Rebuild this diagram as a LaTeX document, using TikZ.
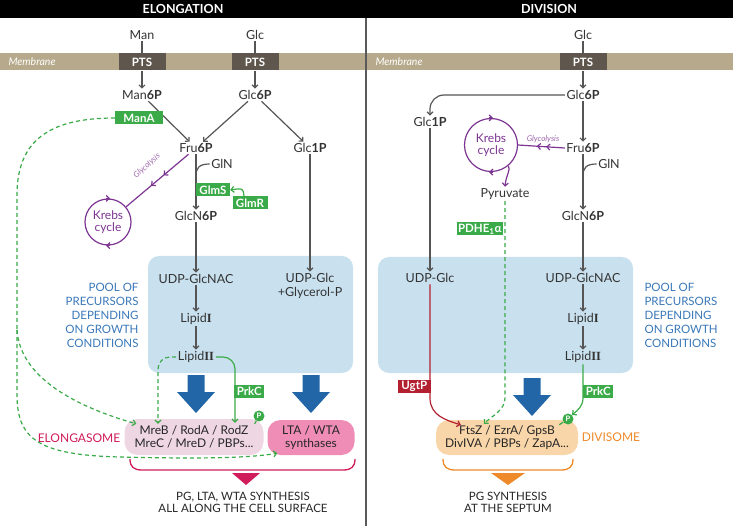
\documentclass[tikz,border=0pt]{standalone}
\usepackage{fontspec}
\setmainfont{Lato}
\newfontfamily\numfont{Liberation Serif}
\usetikzlibrary{arrows.meta,calc,decorations.markings}

\definecolor{membr}{HTML}{B7AA8C}
\definecolor{ptsgrey}{HTML}{5F574E}
\definecolor{txtgrey}{HTML}{333333}
\definecolor{arrgrey}{HTML}{555555}
\definecolor{framegrey}{HTML}{5A5A5A}
\definecolor{enzgreen}{HTML}{3BAA48}
\definecolor{krebs}{HTML}{7D3592}
\definecolor{poolblue}{HTML}{C9E1EF}
\definecolor{pooltxt}{HTML}{3A78B8}
\definecolor{bigblue}{HTML}{2366A8}
\definecolor{elopink}{HTML}{EED6E2}
\definecolor{ltapink}{HTML}{EF8DB6}
\definecolor{crimson}{HTML}{D01C5B}
\definecolor{divorange}{HTML}{F9D6A9}
\definecolor{orangetxt}{HTML}{EE8A2A}
\definecolor{ugtred}{HTML}{B3202F}

\newcommand\romnum[1]{{\numfont\bfseries #1}}

\tikzset{
  head/.style={text=white, font=\bfseries\fontsize{12.5}{13}\selectfont},
  memb/.style={text=white, font=\itshape\fontsize{10.5}{12}\selectfont},
  pts/.style={fill=ptsgrey, text=white, font=\bfseries\fontsize{11.5}{12}\selectfont, minimum width=47pt, minimum height=17pt, inner sep=0pt},
  met/.style={text=txtgrey, font=\fontsize{12.5}{14}\selectfont, inner sep=1.5pt},
  flow/.style={draw=arrgrey, line width=1.2pt},
  enz/.style={fill=enzgreen, text=white, font=\bfseries\fontsize{11.5}{12}\selectfont, minimum height=13pt, inner sep=1pt},
  gline/.style={draw=enzgreen, line width=1.2pt},
  gdash/.style={gline, dash pattern=on 4pt off 3pt},
  rline/.style={draw=ugtred, line width=1.2pt},
  krebsc/.style={circle, draw=krebs, line width=1.2pt, text=krebs, align=center, font=\fontsize{12}{12.5}\selectfont, inner sep=0pt},
  kline/.style={draw=krebs, line width=1.2pt},
  kmid/.style={kline, postaction={decorate}, decoration={markings,
      mark=at position 0.4 with {\arrow{Straight Barb[length=3pt,width=6pt]}},
      mark=at position 0.6 with {\arrow{Straight Barb[length=3pt,width=6pt]}}}},
  glyc/.style={text=krebs!75, font=\itshape\fontsize{8}{8}\selectfont, inner sep=0pt},
  cplx/.style={rounded corners=13pt, align=center, text=black!85, font=\fontsize{12}{13.5}\selectfont, inner sep=0pt},
  lbl/.style={font=\fontsize{12}{12}\selectfont},
  pool/.style={text=pooltxt, font=\fontsize{11.5}{14}\selectfont},
  outtxt/.style={align=center, text=black!85, font=\fontsize{11.5}{12}\selectfont},
  pcirc/.style={circle, fill=enzgreen, text=white, font=\bfseries\fontsize{7.5}{7.5}\selectfont, inner sep=0pt, minimum size=11pt},
}

\begin{document}
\begin{tikzpicture}[x=1pt, y=-1pt, >={Straight Barb[length=3pt,width=6pt]}]
    \useasboundingbox (0,0) rectangle (733,526);
    % backgrounds
    \fill[black] (0,0) rectangle (733,18);
    \fill[membr] (0,53) rectangle (733,70);
    \draw[framegrey, line width=1.2pt] (366,18)--(366,526);
    \fill[poolblue, rounded corners=11pt] (148,256) rectangle (353,373);
    \fill[poolblue, rounded corners=11pt] (378,257) rectangle (633,373);
    \foreach \x/\y in {196/375, 311/375, 532/378}
        \fill[bigblue] (\x-8.5,\y)--(\x+8.5,\y)--(\x+8.5,\y+17)--(\x+19,\y+17)--(\x,\y+38)--(\x-19,\y+17)--(\x-8.5,\y+17)--cycle;

    \node[head] (hElo) at (183,9) {ELONGATION};
    \node[head] (hDiv) at (549,9) {DIVISION};
    \node[memb] (membL) at (32,62) {Membrane};
    \node[memb] (membR) at (399,62) {Membrane};

    % elongation
    \node[pts] (ptsM) at (142,62) {PTS};
    \node[pts] (ptsG) at (255,62) {PTS};
    \node[met] (man) at (142,35) {Man};
    \node[met] (glc) at (255,35) {Glc};
    \node[met] (man6p) at (142,95) {Man\textbf{6P}};
    \node[met] (glc6p) at (255,95) {Glc\textbf{6P}};
    \node[met] (fru6p) at (196,148) {Fru\textbf{6P}};
    \node[met] (glc1p) at (310,148) {Glc\textbf{1P}};
    \node[met] (gin) at (222,164) {GlN};
    \coordinate (ginj) at (196,176);
    \node[met] (glcn6p) at (196,216) {GlcN\textbf{6P}};
    \node[met] (udpnac) at (196,279) {UDP-GlcNAC};
    \node[met, align=center] (udpglc) at (310,286) {UDP-Glc\\+Glycerol-P};
    \node[met] (lip1) at (196,319) {Lipid\romnum{I}};
    \node[met] (lip2) at (196,357) {Lipid\romnum{II}};
    \node[krebsc, minimum size=46pt] (krebsL) at (108,222) {Krebs\\cycle};
    \node[glyc, rotate=42] (glyL) at (147,166) {Glycolysis};
    \node[pool, anchor=east, align=right] (poolL) at (142,315) {POOL OF\\PRECURSORS\\DEPENDING\\ON GROWTH\\CONDITIONS};
    \node[cplx, fill=elopink, minimum width=139pt, minimum height=36pt] (elocx) at (194,437) {MreB / RodA / RodZ\\MreC / MreD / PBPs...};
    \node[cplx, fill=ltapink, minimum width=87pt, minimum height=35pt] (lta) at (311,437.5) {LTA / WTA\\synthases};
    \node[lbl, text=crimson] (elolbl) at (79,438) {ELONGASOME};
    \node[outtxt] (outL) at (243,502) {PG, LTA, WTA SYNTHESIS\\ALL ALONG THE CELL SURFACE};

    \draw[flow] (man)--(ptsM);
    \draw[flow] (glc)--(ptsG);
    \draw[flow,->] (ptsM)--(man6p);
    \draw[flow,->] (ptsG)--(glc6p);
    \draw[flow,->] (man6p)--(fru6p);
    \draw[flow,->] (glc6p)--(fru6p);
    \draw[flow,->] (glc6p)--(glc1p);
    \draw[flow,->] (fru6p)--(glcn6p);
    \draw[flow] (gin.west) .. controls (199,164) and (196,168) .. (ginj);
    \draw[flow,->] (glcn6p)--(udpnac);
    \draw[flow,->] (udpnac)--(lip1);
    \draw[flow,->] (lip1)--(lip2);
    \draw[flow,->] (glc1p)--(udpglc);
    \draw[kmid] (fru6p)--(krebsL);
    \draw[kline,->] ([xshift=-2pt]krebsL.north)--([xshift=2pt]krebsL.north);
    \draw[kline,->] ([xshift=2pt]krebsL.south)--([xshift=-2pt]krebsL.south);

    \node[enz, minimum width=48pt] (mana) at (139,118) {ManA};
    \node[enz, minimum width=34pt] (glms) at (213,190) {GlmS};
    \node[enz, minimum width=35pt] (glmr) at (250,203) {GlmR};
    \draw[gline,->] ([xshift=-6pt]glmr.north) .. controls (243,188) .. (glms.east);

    % dashed ManA links
    \coordinate (manasplit) at (17,330);
    \draw[gdash] (mana.west) .. controls (50,118) and (17,140) .. (17,195)--(manasplit);
    \draw[gdash,->] (manasplit)--(17,395) .. controls (17,440) and (40,455) .. (120,457) .. controls (200,459) and (250,458) .. ([xshift=10pt,yshift=2pt]lta.south west);
    \draw[gdash,->] (manasplit) .. controls (20,375) and (70,405) .. ([xshift=12pt,yshift=-5pt]elocx.north west);

    % lipid II to elongasome
    \draw[gdash,->, rounded corners=12pt] (lip2.west) -| ([xshift=-36pt,yshift=-5pt]elocx.north);
    \draw[gline,->, rounded corners=12pt] (lip2.east) -| ([xshift=41pt,yshift=-4pt]elocx.north);
    \node[enz, anchor=west, minimum width=30pt] (prkL) at (234,391) {PrkC};
    \node[pcirc] (pL) at (259,416) {P};
    \coordinate (pLb) at ($(elocx.north east)+(-9,5)$);
    \draw[gline] (pL)--(pLb);

    \draw[crimson, line width=1.3pt] (130,459) .. controls (130,467) and (134,470) .. (142,470)--(343,470) .. controls (351,470) and (355,467) .. (355,459);
    \fill[crimson] (232,473)--(260,473)--(246,485)--cycle;

    % division
    \node[pts] (ptsD) at (583,62) {PTS};
    \node[met] (glcD) at (583,35) {Glc};
    \node[met] (glc6pD) at (583,95) {Glc\textbf{6P}};
    \node[met] (glc1pD) at (430,122) {Glc\textbf{1P}};
    \node[met] (fru6pD) at (583,148) {Fru\textbf{6P}};
    \node[met] (ginD) at (609,164) {GlN};
    \coordinate (ginjD) at (583,176);
    \node[met] (glcn6pD) at (583,216) {GlcN\textbf{6P}};
    \node[met] (udpnacD) at (583,278) {UDP-GlcNAC};
    \node[met] (udpglcD) at (430,278) {UDP-Glc};
    \node[met] (lip1D) at (583,319) {Lipid\romnum{I}};
    \node[met] (lip2D) at (583,357) {Lipid\romnum{II}};
    \node[krebsc, minimum size=53pt] (krebsD) at (491,145) {Krebs\\cycle};
    \node[glyc] (glyD) at (543,139) {Glycolysis};
    \node[met] (pyr) at (505,194) {Pyruvate};
    \node[pool, anchor=west, align=left] (poolR) at (641,315) {POOL OF\\PRECURSORS\\DEPENDING\\ON GROWTH\\CONDITIONS};
    \node[cplx, fill=divorange, minimum width=142pt, minimum height=35pt] (divcx) at (507,437.5) {FtsZ / EzrA/ GpsB\\DivIVA / PBPs / ZapA...};
    \node[lbl, text=orangetxt] (divlbl) at (611,437) {DIVISOME};
    \node[outtxt] (outR) at (508,502) {PG SYNTHESIS\\AT THE SEPTUM};
    \node[pcirc] (pD) at (568,419) {P};

    \draw[flow] (glcD)--(ptsD);
    \draw[flow,->] (ptsD)--(glc6pD);
    \draw[flow,->, rounded corners=14pt] (glc6pD.west) -| (glc1pD.north);
    \draw[flow,->] (glc6pD)--(fru6pD);
    \draw[flow,->] (fru6pD)--(glcn6pD);
    \draw[flow] (ginD.west) .. controls (586,164) and (583,168) .. (ginjD);
    \draw[flow,->] (glcn6pD)--(udpnacD);
    \draw[flow,->] (udpnacD)--(lip1D);
    \draw[flow,->] (lip1D)--(lip2D);
    \draw[flow,->] (glc1pD)--(udpglcD);
    \draw[kmid] (fru6pD.west)--(krebsD.east);
    \draw[kline,->] (krebsD.-50) .. controls (511,170) and (506,175) .. (pyr.north);
    \draw[kline,->] ([xshift=-2pt]krebsD.north)--([xshift=2pt]krebsD.north);
    \draw[kline,->] ([xshift=2pt]krebsD.south)--([xshift=-2pt]krebsD.south);

    \draw[gdash,->] (pyr.south)--(505,398) .. controls (505,410) and (492,416) .. ([xshift=48pt,yshift=-4pt]divcx.north west);
    \node[enz, anchor=east, minimum width=46pt] (pdhe) at (503,229) {PDHE\textsubscript{1}α};
    \draw[rline,->] (udpglcD.south)--(430,398) .. controls (430,415) and (445,420) .. ([xshift=25pt,yshift=-5pt]divcx.north west);
    \node[enz, fill=ugtred, anchor=east, minimum width=33pt] (ugtp) at (431,386) {UgtP};
    \draw[gline,->] (lip2D.south)--(583,398) .. controls (583,406) and (578,410) .. (pD.north east);
    \node[enz, anchor=west, minimum width=30pt] (prkD) at (583,391) {PrkC};
    \coordinate (pDb) at ($(divcx.north east)+(-19,5)$);
    \draw[gline] (pD)--(pDb);

    \draw[orangetxt, line width=1.3pt] (443,459) .. controls (443,467) and (447,470) .. (455,470)--(561,470) .. controls (569,470) and (573,467) .. (573,459);
    \fill[orangetxt] (491,473)--(525,473)--(508,485)--cycle;
\end{tikzpicture}
\end{document}
